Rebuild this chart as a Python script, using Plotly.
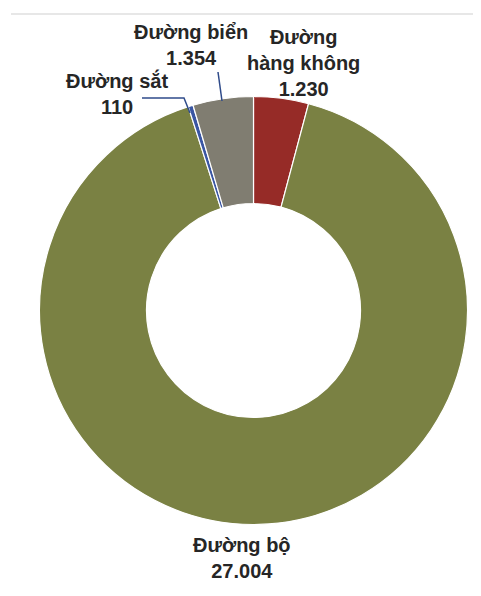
import plotly.graph_objects as go

# Data
categories = ["Đường hàng không", "Đường bộ", "Đường sắt", "Đường biển"]
values = [1230, 27004, 110, 1354]
value_labels = ["1.230", "27.004", "110", "1.354"]
colors = ["#962b27", "#7a8143", "#3a56a3", "#807d71"]

# page body has an 8px margin; figure sized to fit the window
OFF = 8
W, H = 481 - 2 * OFF, 596 - 2 * OFF

def px(x):
    return (x - OFF) / W

def py(y):
    return 1 - (y - OFF) / H

cx, cy, R = 253.5, 310.5, 214

fig = go.Figure(go.Pie(
    labels=categories,
    values=values,
    hole=0.5,
    sort=False,
    direction="clockwise",
    rotation=0,
    textinfo="none",
    hoverinfo="label+value",
    marker=dict(colors=colors, line=dict(color="white", width=1.2)),
    domain=dict(x=[px(cx - R), px(cx + R)], y=[py(cy + R), py(cy - R)]),
    showlegend=False,
))

font = dict(family="Liberation Sans, Arial, sans-serif", size=20, color="#262626")

label_pos = {
    "Đường hàng không": (303, 63, "Đường<br>hàng không<br>"),
    "Đường bộ": (242, 558, "Đường bộ<br>"),
    "Đường sắt": (117, 94, "Đường sắt<br>"),
    "Đường biển": (191, 45, "Đường biển<br>"),
}
annotations = []
for cat, val in zip(categories, value_labels):
    x, y, prefix = label_pos[cat]
    annotations.append(dict(
        x=px(x), y=py(y), xref="paper", yref="paper",
        text="<b>" + prefix + val + "</b>",
        showarrow=False, font=font, align="center",
        xanchor="center", yanchor="middle",
    ))

line_col = "#2f4b8a"
shapes = [
    # top rule
    dict(type="line", xref="paper", yref="paper", x0=px(11), x1=px(481), y0=py(14), y1=py(14),
         line=dict(color="#cfcfcf", width=1)),
    # leader for Đường biển
    dict(type="line", xref="paper", yref="paper", x0=px(218), y0=py(72), x1=px(222), y1=py(101),
         line=dict(color=line_col, width=1.5)),
    # leader for Đường sắt
    dict(type="path", xref="paper", yref="paper",
         path=f"M {px(142)} {py(98)} L {px(184)} {py(98)} L {px(190)} {py(113)}",
         line=dict(color=line_col, width=1.5)),
]

fig.update_layout(
    width=W, height=H,
    margin=dict(l=0, r=0, t=0, b=0),
    paper_bgcolor="white",
    plot_bgcolor="white",
    annotations=annotations,
    shapes=shapes,
)

fig.write_html("out.html")
